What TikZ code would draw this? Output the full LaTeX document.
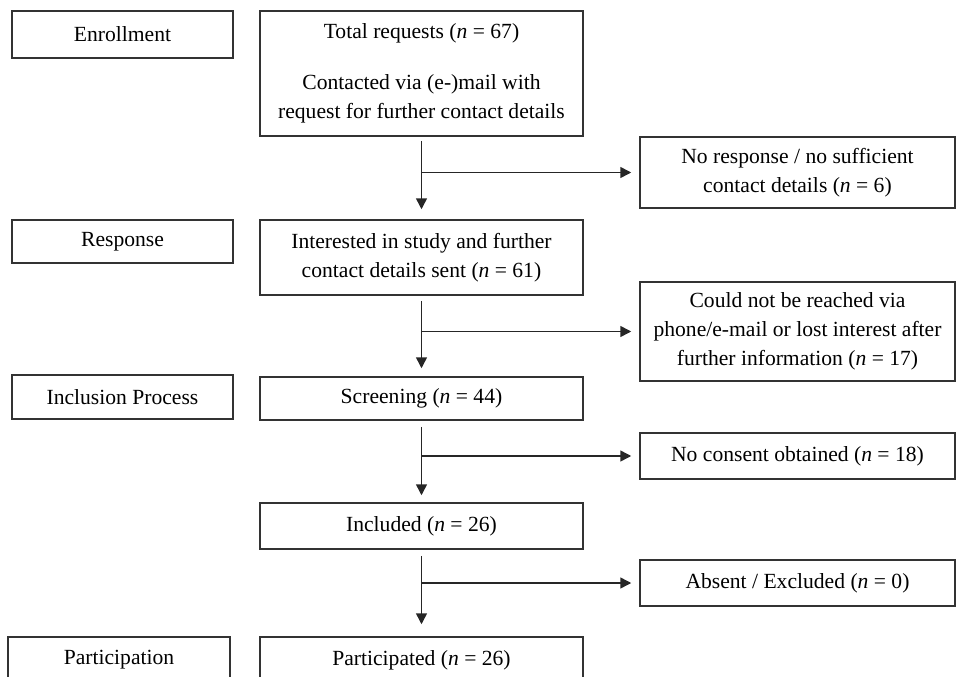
\documentclass[tikz,border=0pt]{standalone}
\usepackage{fontspec}
\setmainfont{Liberation Serif}
\usetikzlibrary{arrows.meta}
\newcommand{\nn}[1]{(\textit{n} = #1)}

\begin{document}
\begin{tikzpicture}[x=1pt, y=-1pt, font=\fontsize{21.6}{29}\selectfont,
  box/.style={draw=black!80, line width=1.5pt, align=center, inner sep=0pt},
  lbox/.style={box, minimum width=221pt},
  mbox/.style={box, minimum width=323pt},
  rbox/.style={box, minimum width=315pt},
  flow/.style={-{Triangle[width=11pt,length=11pt]}, draw=black!85, line width=1.5pt}]
  \useasboundingbox (0,0) rectangle (959,677);
  \clip (0,0) rectangle (959,677);
  \node[lbox, minimum height=47pt] (enroll) at (122.5,34.5) {Enrollment};
  \node[lbox, minimum height=43pt] (resp) at (122.5,241.5) {Response};
  \node[lbox, minimum height=44pt] (incl) at (122.5,397) {Inclusion Process};
  \node[lbox, minimum width=222pt, minimum height=46pt] (part) at (119,660) {Participation};
  \node[mbox, minimum height=125pt] (total) at (421.5,73.5) {Total requests \nn{67}\\[22pt]Contacted via (e-)mail with\\request for further contact details};
  \node[mbox, minimum height=75pt] (inter) at (421.5,257.5) {Interested in study and further\\contact details sent \nn{61}};
  \node[mbox, minimum height=43pt] (screen) at (421.5,398.5) {Screening \nn{44}};
  \node[mbox, minimum height=46pt] (included) at (421.5,526) {Included \nn{26}};
  \node[mbox, minimum height=46pt] (partd) at (421.5,660) {Participated \nn{26}};
  \node[rbox, minimum height=71pt] (noresp) at (797.5,172.5) {No response / no sufficient\\contact details \nn{6}};
  \node[rbox, minimum height=99pt] (noreach) at (797.5,331.5) {Could not be reached via\\phone/e-mail or lost interest after\\further information \nn{17}};
  \node[rbox, minimum height=46pt] (nocons) at (797.5,456) {No consent obtained \nn{18}};
  \node[rbox, minimum height=46pt] (absent) at (797.5,583) {Absent / Excluded \nn{0}};
  \draw[flow, shorten <=4pt, shorten >=10pt] (total) -- (inter);
  \draw[flow, shorten <=5pt, shorten >=8pt] (inter) -- (screen);
  \draw[flow, shorten <=6pt, shorten >=7pt] (screen) -- (included);
  \draw[flow, shorten <=6pt, shorten >=12pt] (included) -- (partd);
  \draw[flow, shorten >=8pt] (total.south |- noresp.west) -- (noresp.west);
  \draw[flow, shorten >=8pt] (inter.south |- noreach.west) -- (noreach.west);
  \draw[flow, shorten >=8pt] (screen.south |- nocons.west) -- (nocons.west);
  \draw[flow, shorten >=8pt] (included.south |- absent.west) -- (absent.west);
\end{tikzpicture}
\end{document}
